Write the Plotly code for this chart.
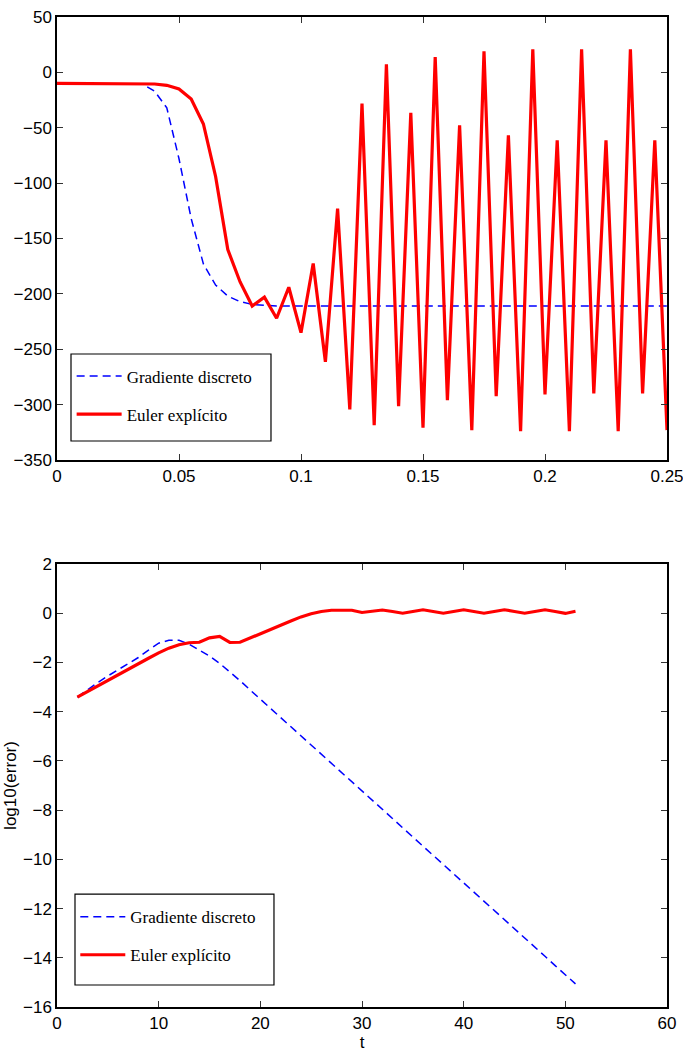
import plotly.graph_objects as go

# ---------------- data: top panel ----------------
t_top = [0.0, 0.005, 0.01, 0.015, 0.02, 0.025, 0.03, 0.035, 0.04, 0.045,
         0.05, 0.055, 0.06, 0.065, 0.07, 0.075, 0.08, 0.085, 0.09, 0.095,
         0.1, 0.105, 0.11, 0.115, 0.12, 0.125, 0.13, 0.135, 0.14, 0.145,
         0.15, 0.155, 0.16, 0.165, 0.17, 0.175, 0.18, 0.185, 0.19, 0.195,
         0.2, 0.205, 0.21, 0.215, 0.22, 0.225, 0.23, 0.235, 0.24, 0.245, 0.25]

gradiente_top = [-10, -10, -10, -10, -10, -10, -10, -10.5, -17, -32,
                 -78, -132, -173, -192, -202, -207, -209.5, -210.5, -211, -211,
                 -211, -211, -211, -211, -211, -211, -211, -211, -211, -211,
                 -211, -211, -211, -211, -211, -211, -211, -211, -211, -211,
                 -211, -211, -211, -211, -211, -211, -211, -211, -211, -211, -211]

euler_top = [-10, -10, -10, -10, -10, -10, -10, -10, -10.5, -11.7,
             -15, -24, -46.6, -94, -160, -189, -211, -203, -222, -194,
             -235, -172.6, -261.3, -123, -304.3, -28.2, -318.5, 7.3, -301.3, -36.6,
             -320.9, 13.9, -295.9, -47.8, -323, 19, -292.3, -56.8, -323.9, 20.8,
             -290.8, -61.3, -323.9, 20.8, -289.9, -61.3, -323.9, 20.8, -289.9, -61.3, -323]

# ---------------- data: bottom panel ----------------
t_bot = [2, 3, 4, 5, 6, 7, 8, 9, 10, 11, 12, 13, 14, 15, 16, 17, 18, 19, 20, 21,
         22, 23, 24, 25, 26, 27, 28, 29, 30, 31, 32, 33, 34, 35, 36, 37, 38, 39, 40, 41,
         42, 43, 44, 45, 46, 47, 48, 49, 50, 51]

gradiente_bot = [-3.41, -3.10, -2.82, -2.55, -2.30, -2.05, -1.80, -1.50, -1.22, -1.10,
                 -1.10, -1.26, -1.49, -1.74, -2.04, -2.38, -2.74, -3.12, -3.49, -3.86,
                 -4.24, -4.61, -4.98, -5.36, -5.73, -6.10, -6.48, -6.85, -7.22, -7.60,
                 -7.97, -8.34, -8.72, -9.09, -9.46, -9.84, -10.21, -10.58, -10.96, -11.33,
                 -11.70, -12.08, -12.45, -12.82, -13.20, -13.57, -13.94, -14.32, -14.69, -15.06]

euler_bot = [-3.41, -3.18, -2.96, -2.73, -2.51, -2.28, -2.06, -1.83, -1.61, -1.42,
             -1.28, -1.20, -1.18, -1.00, -0.94, -1.19, -1.18, -1.00, -0.83, -0.66,
             -0.49, -0.32, -0.15, -0.02, 0.07, 0.12, 0.13, 0.12, 0.03, 0.08,
             0.13, 0.07, 0.00, 0.07, 0.14, 0.07, 0.00, 0.07, 0.14, 0.07,
             0.00, 0.07, 0.14, 0.07, 0.00, 0.07, 0.14, 0.07, -0.01, 0.08]

names = ["Gradiente discreto", "Euler explícito"]
x_ticks_top = [0, 0.05, 0.1, 0.15, 0.2, 0.25]
x_tick_text_top = ["0", "0.05", "0.1", "0.15", "0.2", "0.25"]
y_ticks_top = [50, 0, -50, -100, -150, -200, -250, -300, -350]
x_ticks_bot = [0, 10, 20, 30, 40, 50, 60]
y_ticks_bot = [2, 0, -2, -4, -6, -8, -10, -12, -14, -16]

BLUE = "#0000ff"
RED = "#ff0000"
TICKFONT = dict(family="Liberation Sans Narrow, Liberation Sans, Arial", size=17, color="black")
LEGFONT = dict(family="Liberation Serif, Times New Roman, serif", size=17, color="black")
LABFONT = dict(family="Liberation Sans, Arial", size=17, color="black")

fig = go.Figure()

fig.add_trace(go.Scatter(x=t_top, y=gradiente_top, mode="lines", name=names[0],
                         line=dict(color=BLUE, width=1.5, dash="8px,5px"),
                         xaxis="x", yaxis="y", legend="legend", legendgroup="a"))
fig.add_trace(go.Scatter(x=t_top, y=euler_top, mode="lines", name=names[1],
                         line=dict(color=RED, width=3.2),
                         xaxis="x", yaxis="y", legend="legend", legendgroup="b"))
fig.add_trace(go.Scatter(x=t_bot, y=gradiente_bot, mode="lines", name=names[0],
                         line=dict(color=BLUE, width=1.5, dash="8px,5px"),
                         xaxis="x2", yaxis="y2", legend="legend2", legendgroup="c"))
fig.add_trace(go.Scatter(x=t_bot, y=euler_bot, mode="lines", name=names[1],
                         line=dict(color=RED, width=3.2),
                         xaxis="x2", yaxis="y2", legend="legend2", legendgroup="d"))

axis_common = dict(showline=True, linecolor="black", linewidth=1.5, mirror="ticks",
                   ticks="inside", ticklen=6, tickwidth=1, tickcolor="#333333",
                   showgrid=False, zeroline=False, tickfont=TICKFONT, automargin=False,
                   ticklabeloverflow="allow")

fig.update_layout(
    width=683, height=1053,
    margin=dict(l=57, r=16, t=17, b=46, autoexpand=False),
    paper_bgcolor="white", plot_bgcolor="white",
    xaxis=dict(domain=[0, 1], anchor="y", range=[0, 0.25], tickvals=x_ticks_top,
               ticktext=x_tick_text_top, **axis_common),
    yaxis=dict(domain=[0.5525, 1.0], anchor="x", range=[-350, 50], tickvals=y_ticks_top,
               **axis_common),
    xaxis2=dict(domain=[0, 1], anchor="y2", range=[0, 60], tickvals=x_ticks_bot,
                title=dict(text="t", font=LABFONT, standoff=1), **axis_common),
    yaxis2=dict(domain=[0, 0.4475], anchor="x2", range=[-16, 2], tickvals=y_ticks_bot,
                title=dict(text="log10(error)", font=LABFONT, standoff=2), **axis_common),
    legend=dict(x=0.024, y=0.655, xanchor="left", yanchor="top", bgcolor="rgba(0,0,0,0)",
                borderwidth=0, font=LEGFONT, tracegroupgap=13, traceorder="grouped", itemwidth=45),
    legend2=dict(x=0.03, y=0.109, xanchor="left", yanchor="top", bgcolor="rgba(0,0,0,0)",
                 borderwidth=0, font=LEGFONT, tracegroupgap=13, traceorder="grouped", itemwidth=45),
    shapes=[
        dict(type="rect", xref="paper", yref="paper", x0=0.02295, x1=0.3508, y0=0.5717, y1=0.6596,
             line=dict(color="black", width=1.2), fillcolor="white", layer="below"),
        dict(type="rect", xref="paper", yref="paper", x0=0.0295, x1=0.3557, y0=0.0222, y1=0.1141,
             line=dict(color="black", width=1.2), fillcolor="white", layer="below"),
    ],
    showlegend=True,
)

fig.write_html("out.html")
